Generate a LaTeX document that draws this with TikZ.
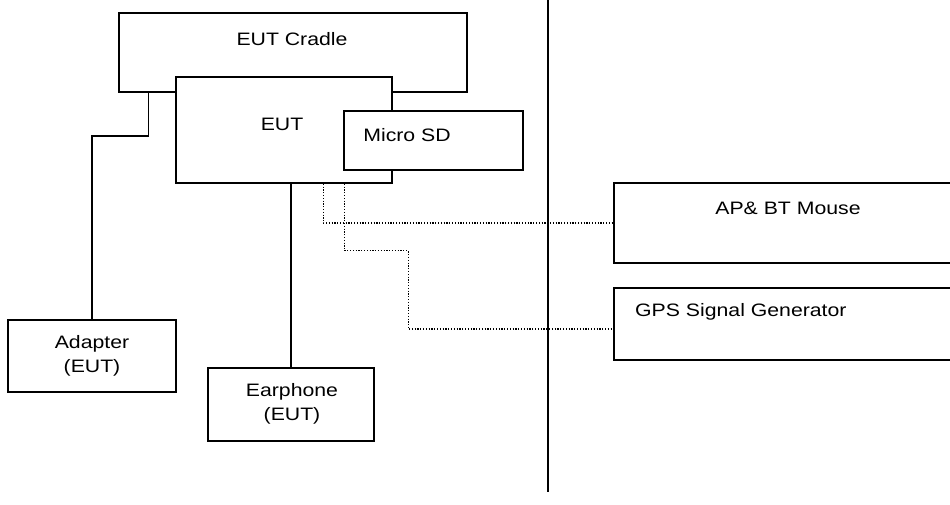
\documentclass[tikz,border=0pt]{standalone}
\usepackage{fontspec}
\setmainfont{Liberation Sans}
\usetikzlibrary{calc}
\newcommand\sx[1]{\scalebox{1.18}[1]{#1}}
\begin{document}
\begin{tikzpicture}[x=1pt,y=-1pt,
  box/.style={draw,line width=1.5pt,fill=white,inner sep=0pt,rectangle},
  txt/.style={inner sep=0pt,font=\fontsize{18}{24}\selectfont,align=center},
  wire/.style={line width=1.5pt},
  dot/.style={line width=1.3pt,dash pattern=on 1.2pt off 1.6pt}]
\useasboundingbox (0,0) rectangle (950,504);
% divider
\coordinate (dtop) at (548,0);
\coordinate (dbot) at (548,492);
\draw[wire] (dtop) -- (dbot);
% boxes
\node[box,minimum width=348pt,minimum height=79pt] (cradle) at (293,52.5) {};
\node[box,minimum width=216pt,minimum height=106pt] (eut) at (284,130) {};
\node[box,minimum width=179pt,minimum height=59pt] (sd) at (433.5,140.5) {};
\node[box,minimum width=168pt,minimum height=72pt] (adapter) at (92,356) {};
\node[box,minimum width=166pt,minimum height=73pt] (earphone) at (291,404.5) {};
\node[box,minimum width=346pt,minimum height=80pt] (ap) at (787,223) {};
\node[box,minimum width=346pt,minimum height=72pt] (gps) at (787,324) {};
% texts
\node[txt] (tcradle) at (292,39) {\sx{EUT Cradle}};
\node[txt] (teut) at (282,124) {\sx{EUT}};
\node[txt] (tsd) at (407,135) {\sx{Micro SD}};
\node[txt] (tadapter) at (92,356) {\sx{Adapter}\\\sx{(EUT)}};
\node[txt] (tearphone) at (292,404) {\sx{Earphone}\\\sx{(EUT)}};
\node[txt] (tap) at (788,208) {\sx{AP\& BT Mouse}};
\node[txt,anchor=west] (tgps) at (635,312) {\sx{GPS Signal Generator}};
% solid connectors
\draw[wire] (cradle.south west) ++(30,0) -- ++(0,43) -| (adapter.north);
\draw[wire] (eut.south -| earphone.north) -- (earphone.north);
% dotted links
\draw[dot] ($(eut.south west)+(148,0)$) |- (ap.west);
\draw[dot] ($(eut.south west)+(169,0)$) -- ++(0,67) -| ++(64,0) |- ($(gps.west)+(0,5)$);
\end{tikzpicture}
\end{document}
